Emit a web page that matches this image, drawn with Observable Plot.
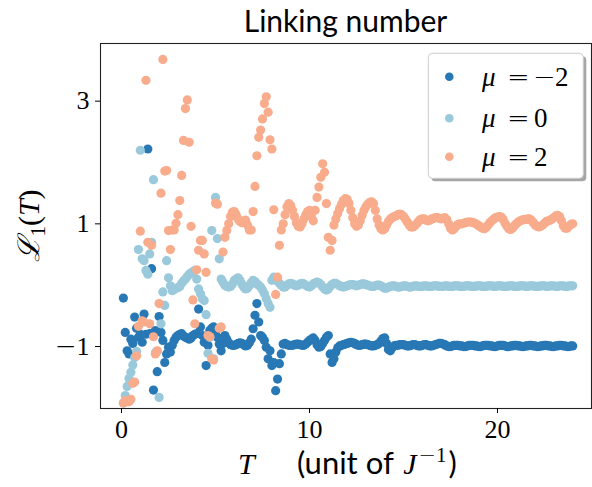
<!DOCTYPE html>
<html><head><meta charset="utf-8">
<script src="https://cdn.jsdelivr.net/npm/d3@7"></script>
<script src="https://cdn.jsdelivr.net/npm/@observablehq/plot@0.6"></script>
<style>body{margin:0;background:#fff} svg{display:block}</style>
</head><body><div id="chart"></div>
<script>
// T grid: 0.1 ... 24.0 (step 0.1)
const muNeg2 = [
 -0.21,-0.77,-1.07,-1.12,-0.88,-0.95,-0.52,-0.7,-0.85,-0.8,
 -0.93,-0.47,-0.8,2.22,-0.79,0.27,-1.71,-0.74,-1.41,-0.51,
 -0.77,-0.9,-1.26,-1.12,-1.01,-1.09,-0.98,-0.9,-0.85,-0.82,
 -0.8,-0.79,-0.83,-0.85,-0.86,-0.88,-0.86,-0.82,-0.8,-0.79,
 -0.39,-0.68,-0.82,-0.93,-1.31,-0.98,-0.74,-0.7,-0.68,-0.8,
 -0.85,-0.96,-1.07,-0.95,-0.82,-0.88,-0.94,-0.97,-0.98,-0.98,
 -0.97,-0.95,-0.94,-0.95,-0.97,-0.99,-0.98,-0.94,-0.88,-0.71,
 -0.49,-0.3,-0.6,-0.82,-0.85,-0.9,-1.01,-1.2,-1.07,-1.31,
 -1.26,-1.72,-1.53,-1.28,-1.12,-0.96,-0.95,-0.97,-0.98,-0.98,
 -0.98,-0.97,-0.96,-0.96,-0.97,-0.98,-0.98,-0.96,-0.93,-0.9,
 -0.88,-0.86,-0.9,-0.97,-1.01,-1.0,-0.95,-0.9,-0.85,-0.82,
 -1.12,-1.26,-1.2,-1.09,-1.02,-0.99,-0.98,-0.97,-0.96,-0.95,
 -0.94,-0.93,-0.94,-0.95,-0.97,-0.98,-0.98,-0.97,-0.96,-0.96,
 -0.97,-0.98,-0.99,-0.99,-0.98,-0.97,-0.95,-0.91,-0.87,-0.86,
 -0.95,-1.05,-1.07,-1.02,-0.99,-0.98,-0.98,-0.97,-0.97,-0.97,
 -0.98,-0.99,-0.99,-0.98,-0.97,-0.97,-0.98,-0.99,-0.99,-0.98,
 -0.97,-0.97,-0.98,-0.99,-0.99,-0.98,-0.97,-0.96,-0.95,-0.95,
 -0.96,-0.97,-0.99,-1.0,-1.0,-0.99,-0.98,-0.98,-0.98,-0.99,
 -0.99,-1.0,-1.0,-0.99,-0.98,-0.98,-0.98,-0.99,-0.99,-1.0,
 -1.0,-0.99,-0.98,-0.98,-0.98,-0.99,-0.99,-1.0,-1.0,-0.99,
 -0.98,-0.98,-0.98,-0.99,-1.0,-1.0,-0.99,-0.99,-0.98,-0.98,
 -0.99,-0.99,-1.0,-1.0,-0.99,-0.99,-0.98,-0.98,-0.99,-0.99,
 -1.0,-1.0,-0.99,-0.99,-0.98,-0.98,-0.99,-0.99,-1.0,-1.0,
 -0.99,-0.99,-0.98,-0.98,-0.99,-0.99,-1.0,-1.0,-0.99,-0.99
];
const mu0 = [
 -1.92,-1.8,-1.65,-1.52,-1.42,-1.3,-1.18,-1.08,0.58,2.2,
 0.43,0.4,0.24,0.18,0.51,0.7,1.72,-1.1,-1.08,-1.83,
 -0.63,-0.11,-0.33,0.4,0.12,-0.01,-0.09,-0.07,-0.05,-0.04,
 -0.02,0.03,0.07,0.1,0.14,0.18,0.2,0.22,0.24,0.1,
 -0.06,-0.14,-0.22,-0.25,-0.48,-1.11,-0.85,0.89,-1.2,1.43,
 0.76,0.43,0.1,0.05,0.0,-0.02,-0.03,-0.02,0.02,0.08,
 0.1,0.12,0.08,0.02,-0.03,-0.06,-0.05,-0.01,0.04,0.08,
 0.06,0.02,0.0,-0.03,-0.08,-0.14,-0.22,-0.3,-0.36,0.08,
 0.13,0.12,0.07,0.03,0.0,-0.03,-0.03,0.0,0.02,0.03,
 0.02,0.0,-0.01,0.0,0.02,0.03,0.02,0.0,-0.02,-0.03,
 -0.01,0.02,0.04,0.05,0.04,0.01,-0.03,-0.06,-0.08,-0.06,
 -0.02,0.01,0.03,0.03,0.01,-0.01,-0.02,-0.03,-0.02,-0.01,
 0.0,0.01,0.01,0.0,-0.01,0.0,0.01,0.02,0.02,0.01,
 0.0,-0.01,-0.02,-0.02,-0.01,0.0,0.0,-0.01,-0.03,-0.05,
 -0.05,-0.03,-0.02,-0.01,-0.01,-0.02,-0.03,-0.03,-0.02,-0.01,
 -0.01,-0.02,-0.03,-0.03,-0.02,-0.01,-0.01,-0.02,-0.02,-0.02,
 -0.01,-0.01,-0.02,-0.02,-0.02,-0.01,-0.01,-0.01,-0.02,-0.02,
 -0.02,-0.01,-0.01,-0.02,-0.02,-0.02,-0.01,-0.01,-0.01,-0.02,
 -0.02,-0.02,-0.01,-0.01,-0.01,-0.02,-0.02,-0.02,-0.01,-0.01,
 -0.01,-0.02,-0.02,-0.02,-0.01,-0.01,-0.01,-0.02,-0.02,-0.01,
 -0.01,-0.01,-0.02,-0.02,-0.02,-0.01,-0.01,-0.01,-0.02,-0.02,
 -0.02,-0.01,-0.01,-0.01,-0.02,-0.02,-0.01,-0.01,-0.01,-0.02,
 -0.02,-0.02,-0.01,-0.01,-0.01,-0.02,-0.02,-0.01,-0.01,-0.01,
 -0.02,-0.02,-0.01,-0.01,-0.01,-0.02,-0.02,-0.01,-0.01,-0.01
];
const mu2 = [
 -1.92,-1.88,-1.9,-1.9,-1.86,-1.6,-1.58,-1.15,-0.67,0.88,
 -0.58,-0.6,3.34,0.7,-0.63,0.65,-0.84,-1.12,-1.07,-0.3,
 1.5,3.68,1.86,1.87,0.89,0.58,0.9,0.9,1.01,1.15,
 1.38,1.79,2.36,2.88,3.02,2.33,0.96,-0.24,-0.63,0.25,
 0.57,0.73,0.73,0.51,0.21,-0.82,-0.84,-1.2,-1.22,1.34,
 1.32,-0.7,-0.68,0.54,0.78,0.89,1.0,1.12,1.19,1.2,
 1.15,1.08,1.04,1.02,1.05,1.06,0.98,0.9,0.9,1.2,
 1.61,2.11,2.41,2.53,2.71,2.96,3.07,2.82,2.37,2.22,
 1.23,-0.15,0.13,0.65,0.9,1.0,1.15,1.28,1.33,1.3,
 1.22,1.12,1.02,0.96,0.95,1.0,1.08,1.15,1.2,1.22,
 1.12,1.05,1.22,1.43,1.6,1.76,1.98,1.84,1.33,0.78,
 0.57,0.73,0.98,1.08,1.17,1.25,1.32,1.38,1.41,1.4,
 1.33,1.22,1.1,1.0,0.96,0.98,1.05,1.14,1.22,1.28,
 1.32,1.35,1.36,1.33,1.22,1.08,0.98,0.92,0.9,0.92,
 0.98,1.04,1.08,1.1,1.12,1.13,1.15,1.16,1.15,1.12,
 1.08,1.03,0.98,0.95,0.95,0.97,1.0,1.04,1.07,1.08,
 1.08,1.06,1.05,1.06,1.08,1.09,1.1,1.1,1.09,1.08,
 1.09,1.1,1.07,1.0,0.93,0.9,0.92,0.96,0.99,1.0,
 1.0,1.01,1.02,1.03,1.03,1.03,1.02,1.01,0.99,0.97,
 0.95,0.93,0.92,0.94,0.98,1.02,1.05,1.08,1.1,1.11,
 1.12,1.11,1.07,1.01,0.96,0.92,0.91,0.93,0.97,1.0,
 1.03,1.05,1.06,1.07,1.07,1.08,1.08,1.06,1.02,0.98,
 0.96,0.95,0.96,0.98,1.01,1.04,1.05,1.06,1.08,1.1,
 1.13,1.14,1.12,1.05,0.97,0.93,0.93,0.96,0.99,1.0
];
const seriesLabels = [["−2"], ["0"], ["2"]];
const seriesColors = ["#2878b5", "#9ac9db", "#f8ac8c"];
const xTicks = [0, 10, 20];
const yTicks = [-1, 1, 3];
const titleText = "Linking number";

const T = d3.range(1, 241).map(i => i / 10);
const rows = vals => vals.map((v, i) => ({T: T[i], v}));

const chart = Plot.plot({
  width: 592, height: 487,
  marginLeft: 100, marginRight: 1, marginTop: 43, marginBottom: 79,
  style: {background: "#fff", color: "#000", fontFamily: "'Liberation Serif', serif", fontSize: "26px"},
  x: {domain: [-1.117, 25.0]},
  y: {domain: [-2.01, 3.94]},
  marks: [
    Plot.dot(rows(muNeg2), {x: "T", y: "v", r: 4.6, fill: seriesColors[0]}),
    Plot.dot(rows(mu0), {x: "T", y: "v", r: 4.6, fill: seriesColors[1]}),
    Plot.dot(rows(mu2), {x: "T", y: "v", r: 4.6, fill: seriesColors[2]}),
    Plot.frame({stroke: "#222", strokeWidth: 1.1}),
    Plot.axisX({ticks: xTicks, tickSize: 5, tickPadding: 6, label: null, fontSize: 26, tickFormat: d => String(d)}),
    Plot.axisY({ticks: yTicks, tickSize: 5, tickPadding: 6, label: null, fontSize: 26, tickFormat: d => d < 0 ? "−" + (-d) : String(d)})
  ]
});
document.getElementById("chart").appendChild(chart);

const svg = d3.select(chart);
// wider minus in y tick labels (math style)
svg.selectAll("text").each(function() {
  const t = d3.select(this);
  const s = t.text();
  if (/^−\d+$/.test(s)) {
    t.text(null);
    t.append("tspan").attr("font-family", "'DejaVu Sans'").attr("font-weight", 300).text("−");
    t.append("tspan").text(s.slice(1));
  }
});

// title
svg.append("text").attr("x", 345.5).attr("y", 32).attr("text-anchor", "middle")
  .attr("font-family", "Lato, sans-serif").attr("font-size", 30).attr("fill", "#000").text(titleText);

// x label
const xl = svg.append("text").attr("y", 474).attr("font-size", 30).attr("fill", "#000").attr("text-anchor", "start");
xl.append("tspan").attr("x", 238).attr("font-family", "'Liberation Serif', serif").attr("font-style", "italic").text("T");
xl.append("tspan").attr("x", 297).attr("font-family", "Lato, sans-serif").attr("font-size", 31).text("(unit of ");
xl.append("tspan").attr("dx", 2).attr("font-family", "'Liberation Serif', serif").attr("font-style", "italic").text("J");
xl.append("tspan").attr("dx", 2).attr("font-family", "'DejaVu Sans'").attr("font-weight", 300).attr("font-size", 21).attr("dy", -12).text("−");
xl.append("tspan").attr("font-family", "'Liberation Serif', serif").attr("font-size", 21).text("1");
xl.append("tspan").attr("dx", 2).attr("font-family", "Lato, sans-serif").attr("font-size", 31).attr("dy", 12).text(")");

// y label
const yl = svg.append("text").attr("transform", "translate(39,225.5) rotate(-90)")
  .attr("text-anchor", "middle").attr("font-size", 30).attr("fill", "#000")
  .attr("font-family", "'Liberation Serif', serif");
yl.append("tspan").attr("font-family", "'DejaVu Serif', serif").attr("font-style", "italic").text("ℒ");
yl.append("tspan").attr("font-size", 21).attr("dy", 6).text("1");
yl.append("tspan").attr("dy", -6).text("(");
yl.append("tspan").attr("font-style", "italic").text("T");
yl.append("tspan").text(")");

// legend
const lg = svg.append("g");
lg.append("rect").attr("x", 431.3).attr("y", 56.3).attr("width", 155).attr("height", 125).attr("rx", 4).attr("fill", "#a6a6a6");
lg.append("rect").attr("x", 428.3).attr("y", 53.3).attr("width", 155).attr("height", 125).attr("rx", 4)
  .attr("fill", "#fff").attr("stroke", "#cccccc").attr("stroke-width", 1);
const rowY = [76.7, 118.3, 156.7];
seriesLabels.forEach((lab, i) => {
  lg.append("circle").attr("cx", 449.3).attr("cy", rowY[i]).attr("r", 4.3).attr("fill", seriesColors[i]);
  const t = lg.append("text").attr("y", rowY[i] + 9).attr("font-size", 27).attr("fill", "#000")
    .attr("text-anchor", "start").attr("font-family", "'Liberation Serif', serif");
  t.append("tspan").attr("x", 482).attr("font-style", "italic").text("μ");
  t.append("tspan").attr("x", 507).attr("font-family", "'DejaVu Sans'").attr("font-weight", 300).text("=");
  const v = lab[0];
  if (v.startsWith("−")) {
    t.append("tspan").attr("x", 533).attr("font-family", "'DejaVu Sans'").attr("font-weight", 300).text("−");
    t.append("tspan").attr("x", 555).text(v.slice(1));
  } else {
    t.append("tspan").attr("x", 534).text(v);
  }
});
</script>
</body></html>
